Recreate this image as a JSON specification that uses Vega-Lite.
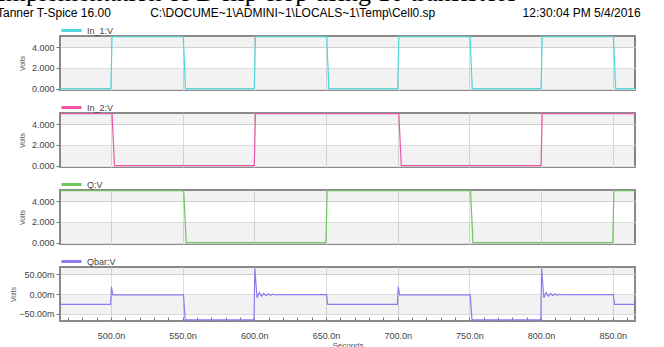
{
  "$schema": "https://vega.github.io/schema/vega-lite/v6.json",
  "background": "white",
  "padding": {"left": -3, "top": -20, "right": 0, "bottom": 0},
  "title": {
    "text": "\u00a0\u00a0\u00a0\u00a0\u00a0\u00a0\u00a0\u00a0\u00a0\u00a0\u00a0\u00a0\u00a0\u00a0\u00a0\u00a0Implementation of D flip-flop using 10 transistors",
    "subtitle": "Tanner T-Spice 16.00\u2002\u2002\u2002\u2002\u2002\u2002\u00a0C:\\DOCUME~1\\ADMINI~1\\LOCALS~1\\Temp\\Cell0.sp\u2002\u2002\u2002\u2002\u2002\u2002\u2002\u2002\u2002\u2002\u2002\u2002\u2002\u2002\u00a012:30:04 PM 5/4/2016",
    "anchor": "start",
    "frame": "group",
    "dx": -63,
    "font": "Liberation Serif",
    "fontSize": 26,
    "fontWeight": "normal",
    "color": "black",
    "subtitleFont": "Liberation Sans",
    "subtitleFontSize": 12,
    "subtitleColor": "black",
    "subtitlePadding": 2,
    "offset": -1
  },
  "datasets": {
    "in1": [
      {"sig": "In_1:V", "t": 464.5, "v": 0}, {"sig": "In_1:V", "t": 500, "v": 0}, {"sig": "In_1:V", "t": 500.8, "v": 5},
      {"sig": "In_1:V", "t": 550.5, "v": 5}, {"sig": "In_1:V", "t": 552, "v": 0}, {"sig": "In_1:V", "t": 600, "v": 0},
      {"sig": "In_1:V", "t": 600.8, "v": 5}, {"sig": "In_1:V", "t": 650.5, "v": 5}, {"sig": "In_1:V", "t": 652, "v": 0},
      {"sig": "In_1:V", "t": 700, "v": 0}, {"sig": "In_1:V", "t": 700.8, "v": 5}, {"sig": "In_1:V", "t": 750.5, "v": 5},
      {"sig": "In_1:V", "t": 752, "v": 0}, {"sig": "In_1:V", "t": 800, "v": 0}, {"sig": "In_1:V", "t": 800.8, "v": 5},
      {"sig": "In_1:V", "t": 850.5, "v": 5}, {"sig": "In_1:V", "t": 852, "v": 0}, {"sig": "In_1:V", "t": 865.5, "v": 0}
    ],
    "in2": [
      {"sig": "In_2:V", "t": 464.5, "v": 5}, {"sig": "In_2:V", "t": 500.8, "v": 5}, {"sig": "In_2:V", "t": 502.5, "v": 0},
      {"sig": "In_2:V", "t": 600, "v": 0}, {"sig": "In_2:V", "t": 600.8, "v": 5}, {"sig": "In_2:V", "t": 700.8, "v": 5},
      {"sig": "In_2:V", "t": 702.5, "v": 0}, {"sig": "In_2:V", "t": 800, "v": 0}, {"sig": "In_2:V", "t": 800.8, "v": 5},
      {"sig": "In_2:V", "t": 865.5, "v": 5}
    ],
    "q": [
      {"sig": "Q:V", "t": 464.5, "v": 5}, {"sig": "Q:V", "t": 550.8, "v": 5}, {"sig": "Q:V", "t": 552.5, "v": 0},
      {"sig": "Q:V", "t": 650, "v": 0}, {"sig": "Q:V", "t": 650.8, "v": 5}, {"sig": "Q:V", "t": 750.8, "v": 5},
      {"sig": "Q:V", "t": 752.5, "v": 0}, {"sig": "Q:V", "t": 850, "v": 0}, {"sig": "Q:V", "t": 850.8, "v": 5},
      {"sig": "Q:V", "t": 865.5, "v": 5}
    ],
    "qbar": [
      {"sig": "Qbar:V", "t": 464.5, "v": -26}, {"sig": "Qbar:V", "t": 499.8, "v": -26}, {"sig": "Qbar:V", "t": 500.4, "v": 19},
      {"sig": "Qbar:V", "t": 501.3, "v": -1.5}, {"sig": "Qbar:V", "t": 550.6, "v": -1.5}, {"sig": "Qbar:V", "t": 551.8, "v": -65},
      {"sig": "Qbar:V", "t": 599.8, "v": -65}, {"sig": "Qbar:V", "t": 600.4, "v": 66}, {"sig": "Qbar:V", "t": 601.9, "v": -9},
      {"sig": "Qbar:V", "t": 603.5, "v": 4}, {"sig": "Qbar:V", "t": 605.1, "v": -5}, {"sig": "Qbar:V", "t": 606.6, "v": 2},
      {"sig": "Qbar:V", "t": 608.2, "v": -4}, {"sig": "Qbar:V", "t": 609.8, "v": 1}, {"sig": "Qbar:V", "t": 611.4, "v": -3},
      {"sig": "Qbar:V", "t": 613, "v": 0}, {"sig": "Qbar:V", "t": 614.6, "v": -2}, {"sig": "Qbar:V", "t": 616.5, "v": -1},
      {"sig": "Qbar:V", "t": 650.4, "v": -1}, {"sig": "Qbar:V", "t": 651.2, "v": -26}, {"sig": "Qbar:V", "t": 699.8, "v": -26},
      {"sig": "Qbar:V", "t": 700.4, "v": 19}, {"sig": "Qbar:V", "t": 701.3, "v": -1.5}, {"sig": "Qbar:V", "t": 750.6, "v": -1.5},
      {"sig": "Qbar:V", "t": 751.8, "v": -65}, {"sig": "Qbar:V", "t": 799.8, "v": -65}, {"sig": "Qbar:V", "t": 800.4, "v": 66},
      {"sig": "Qbar:V", "t": 801.9, "v": -9}, {"sig": "Qbar:V", "t": 803.5, "v": 4}, {"sig": "Qbar:V", "t": 805.1, "v": -5},
      {"sig": "Qbar:V", "t": 806.6, "v": 2}, {"sig": "Qbar:V", "t": 808.2, "v": -4}, {"sig": "Qbar:V", "t": 809.8, "v": 1},
      {"sig": "Qbar:V", "t": 811.4, "v": -3}, {"sig": "Qbar:V", "t": 813, "v": 0}, {"sig": "Qbar:V", "t": 814.6, "v": -2},
      {"sig": "Qbar:V", "t": 816.5, "v": -1}, {"sig": "Qbar:V", "t": 850.4, "v": -1}, {"sig": "Qbar:V", "t": 851.2, "v": -26},
      {"sig": "Qbar:V", "t": 865.5, "v": -26}
    ]
  },
  "bounds": "flush",
  "spacing": 23,
  "resolve": {"scale": {"x": "independent", "y": "independent", "color": "independent"}, "legend": {"color": "independent"}},
  "vconcat": [
    {
      "width": 575, "height": 54,
      "data": {"name": "in1"}, "mark": {"type": "line", "strokeWidth": 1.2},
      "encoding": {
        "x": {"field": "t", "type": "quantitative", "scale": {"domain": [464.5, 865.5], "nice": false, "zero": false},
          "axis": {"values": [500, 550, 600, 650, 700, 750, 800, 850], "labels": false, "ticks": false, "title": null, "grid": true}},
        "y": {"field": "v", "type": "quantitative", "scale": {"domain": [-0.14, 5.07], "nice": false, "zero": false},
          "axis": {"values": [1, 4.535, 0, 2, 4], "title": "Volts", "titlePadding": 6, "tickSize": 4,
            "labelExpr": "datum.value === 1 || datum.value === 4.535 ? '' : format(datum.value, '.3f')",
            "gridWidth": {"condition": [{"test": "datum.value === 1", "value": 20.73}, {"test": "datum.value === 4.535", "value": 11.09}], "value": 1},
            "gridColor": {"condition": {"test": "datum.value === 1 || datum.value === 4.535", "value": "black"}, "value": "#dcdcdc"},
            "gridOpacity": {"condition": {"test": "datum.value === 1 || datum.value === 4.535", "value": 0.05}, "value": 1},
            "tickOpacity": {"condition": {"test": "datum.value === 1 || datum.value === 4.535", "value": 0}, "value": 1}}},
        "color": {"field": "sig", "type": "nominal", "scale": {"domain": ["In_1:V"], "range": ["#4fd6da"]},
          "legend": {"orient": "none", "legendX": 0, "legendY": -17, "title": null, "symbolType": "stroke", "symbolStrokeWidth": 3, "symbolSize": 400, "symbolStrokeColor": "#35c3c7", "labelFont": "Liberation Sans", "labelFontSize": 9, "labelColor": "#444", "padding": 0, "labelOffset": 4}}
      }
    },
    {
      "width": 575, "height": 54,
      "data": {"name": "in2"}, "mark": {"type": "line", "strokeWidth": 1.2},
      "encoding": {
        "x": {"field": "t", "type": "quantitative", "scale": {"domain": [464.5, 865.5], "nice": false, "zero": false},
          "axis": {"values": [500, 550, 600, 650, 700, 750, 800, 850], "labels": false, "ticks": false, "title": null, "grid": true}},
        "y": {"field": "v", "type": "quantitative", "scale": {"domain": [-0.14, 5.07], "nice": false, "zero": false},
          "axis": {"values": [1, 4.535, 0, 2, 4], "title": "Volts", "titlePadding": 6, "tickSize": 4,
            "labelExpr": "datum.value === 1 || datum.value === 4.535 ? '' : format(datum.value, '.3f')",
            "gridWidth": {"condition": [{"test": "datum.value === 1", "value": 20.73}, {"test": "datum.value === 4.535", "value": 11.09}], "value": 1},
            "gridColor": {"condition": {"test": "datum.value === 1 || datum.value === 4.535", "value": "black"}, "value": "#dcdcdc"},
            "gridOpacity": {"condition": {"test": "datum.value === 1 || datum.value === 4.535", "value": 0.05}, "value": 1},
            "tickOpacity": {"condition": {"test": "datum.value === 1 || datum.value === 4.535", "value": 0}, "value": 1}}},
        "color": {"field": "sig", "type": "nominal", "scale": {"domain": ["In_2:V"], "range": ["#ee55a5"]},
          "legend": {"orient": "none", "legendX": 0, "legendY": -17, "title": null, "symbolType": "stroke", "symbolStrokeWidth": 3, "symbolSize": 400, "symbolStrokeColor": "#e3248e", "labelFont": "Liberation Sans", "labelFontSize": 9, "labelColor": "#444", "padding": 0, "labelOffset": 4}}
      }
    },
    {
      "width": 575, "height": 54,
      "data": {"name": "q"}, "mark": {"type": "line", "strokeWidth": 1.2},
      "encoding": {
        "x": {"field": "t", "type": "quantitative", "scale": {"domain": [464.5, 865.5], "nice": false, "zero": false},
          "axis": {"values": [500, 550, 600, 650, 700, 750, 800, 850], "labels": false, "ticks": false, "title": null, "grid": true}},
        "y": {"field": "v", "type": "quantitative", "scale": {"domain": [-0.14, 5.07], "nice": false, "zero": false},
          "axis": {"values": [1, 4.535, 0, 2, 4], "title": "Volts", "titlePadding": 6, "tickSize": 4,
            "labelExpr": "datum.value === 1 || datum.value === 4.535 ? '' : format(datum.value, '.3f')",
            "gridWidth": {"condition": [{"test": "datum.value === 1", "value": 20.73}, {"test": "datum.value === 4.535", "value": 11.09}], "value": 1},
            "gridColor": {"condition": {"test": "datum.value === 1 || datum.value === 4.535", "value": "black"}, "value": "#dcdcdc"},
            "gridOpacity": {"condition": {"test": "datum.value === 1 || datum.value === 4.535", "value": 0.05}, "value": 1},
            "tickOpacity": {"condition": {"test": "datum.value === 1 || datum.value === 4.535", "value": 0}, "value": 1}}},
        "color": {"field": "sig", "type": "nominal", "scale": {"domain": ["Q:V"], "range": ["#6cc85c"]},
          "legend": {"orient": "none", "legendX": 0, "legendY": -17, "title": null, "symbolType": "stroke", "symbolStrokeWidth": 3, "symbolSize": 400, "symbolStrokeColor": "#3aa835", "labelFont": "Liberation Sans", "labelFontSize": 9, "labelColor": "#444", "padding": 0, "labelOffset": 4}}
      }
    },
    {
      "width": 575, "height": 54,
      "data": {"name": "qbar"}, "mark": {"type": "line", "strokeWidth": 1.2},
      "encoding": {
        "x": {"field": "t", "type": "quantitative", "scale": {"domain": [464.5, 865.5], "nice": false, "zero": false},
          "axis": {"values": [470, 480, 490, 500, 510, 520, 530, 540, 550, 560, 570, 580, 590, 600, 610, 620, 630, 640, 650, 660, 670, 680, 690, 700, 710, 720, 730, 740, 750, 760, 770, 780, 790, 800, 810, 820, 830, 840, 850, 860],
            "labelExpr": "datum.value % 50 === 0 ? format(datum.value, '.1f') + 'n' : ''",
            "gridOpacity": {"condition": {"test": "datum.value % 50 === 0", "value": 1}, "value": 0},
            "tickSize": -4, "labelPadding": 14, "title": "Seconds", "titleFontSize": 8, "titlePadding": 1}},
        "y": {"field": "v", "type": "quantitative", "scale": {"domain": [-68, 69], "nice": false, "zero": false},
          "axis": {"values": [-25, 59.5, -50, 0, 50], "title": "Volts", "titlePadding": 2, "tickSize": 4,
            "labelExpr": "datum.value === -25 || datum.value === 59.5 ? '' : format(datum.value, '.2f') + 'm'",
            "gridWidth": {"condition": [{"test": "datum.value === -25", "value": 19.71}, {"test": "datum.value === 59.5", "value": 7.49}], "value": 1},
            "gridColor": {"condition": {"test": "datum.value === -25 || datum.value === 59.5", "value": "black"}, "value": "#dcdcdc"},
            "gridOpacity": {"condition": {"test": "datum.value === -25 || datum.value === 59.5", "value": 0.05}, "value": 1},
            "tickOpacity": {"condition": {"test": "datum.value === -25 || datum.value === 59.5", "value": 0}, "value": 1}}},
        "color": {"field": "sig", "type": "nominal", "scale": {"domain": ["Qbar:V"], "range": ["#8a7cf0"]},
          "legend": {"orient": "none", "legendX": 0, "legendY": -17, "title": null, "symbolType": "stroke", "symbolStrokeWidth": 3, "symbolSize": 400, "symbolStrokeColor": "#6a58d6", "labelFont": "Liberation Sans", "labelFontSize": 9, "labelColor": "#444", "padding": 0, "labelOffset": 4}}
      }
    }
  ],
  "config": {
    "view": {"stroke": "#8a8a8a", "strokeWidth": 2, "fill": "white"},
    "axis": {"labelFont": "Liberation Sans", "labelFontSize": 9, "labelColor": "#444", "titleFont": "Liberation Sans", "titleFontSize": 7, "titleFontWeight": "normal", "titleColor": "#555", "gridColor": "#dcdcdc", "tickColor": "#777", "domain": false, "labelPadding": 2, "labelOverlap": false}
  }
}
